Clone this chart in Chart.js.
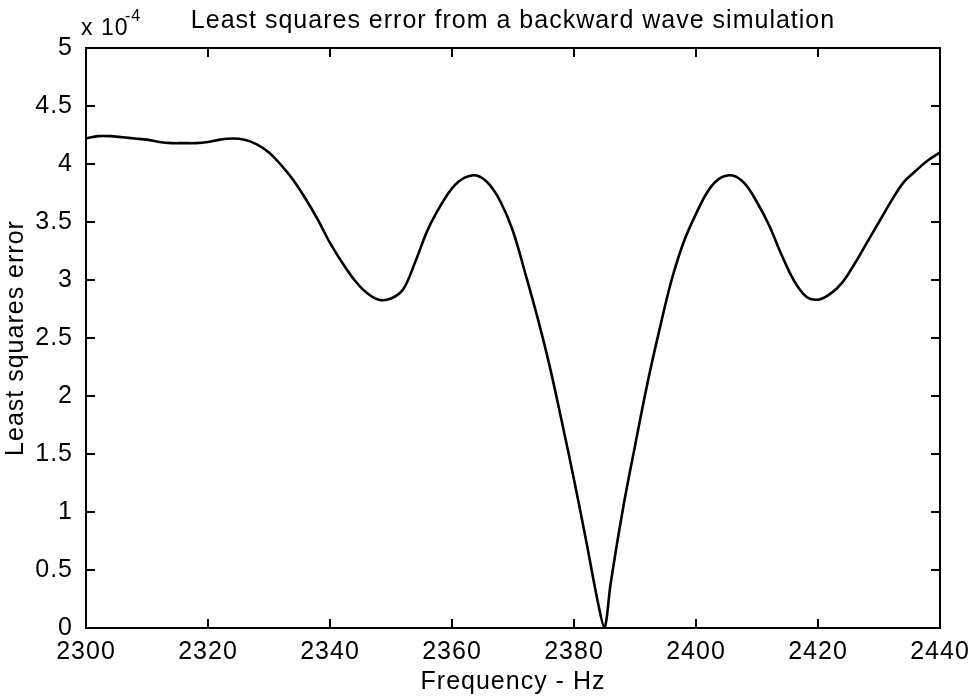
<!DOCTYPE html>
<html>
<head>
<meta charset="utf-8">
<script src="https://cdn.jsdelivr.net/npm/chart.js@4.4.1/dist/chart.umd.min.js"></script>
<style>
  html, body { margin: 0; padding: 0; background: #fff; }
</style>
</head>
<body>
<canvas id="errChart" width="973" height="700"></canvas>
<script>
// frequency in Hz, error in units of 1e-4
const frequency = [
  2300, 2302, 2304, 2306, 2308, 2310, 2312, 2314, 2316, 2318,
  2320, 2322, 2324, 2326, 2328, 2330, 2332, 2334, 2336, 2338,
  2340, 2342, 2344, 2346, 2348, 2350, 2352, 2354, 2356, 2358,
  2360, 2362, 2364, 2366, 2368, 2370, 2372, 2374, 2376, 2378,
  2380, 2382, 2384, 2385, 2386, 2388, 2390, 2392, 2394, 2396,
  2398, 2400, 2402, 2404, 2406, 2408, 2410, 2412, 2414, 2416,
  2418, 2420, 2422, 2424, 2426, 2428, 2430, 2432, 2434, 2436,
  2438, 2440
];
const lsError = [
  4.22, 4.24, 4.24, 4.23, 4.22, 4.21, 4.19, 4.18, 4.18, 4.18,
  4.19, 4.21, 4.22, 4.21, 4.17, 4.10, 3.99, 3.86, 3.70, 3.52,
  3.32, 3.15, 3.00, 2.89, 2.83, 2.84, 2.92, 3.16, 3.43, 3.63,
  3.79, 3.88, 3.90, 3.83, 3.67, 3.42, 3.06, 2.68, 2.26, 1.78,
  1.28, 0.75, 0.20, 0.00, 0.38, 1.02, 1.57, 2.10, 2.57, 3.00,
  3.33, 3.57, 3.77, 3.88, 3.90, 3.83, 3.67, 3.47, 3.22, 3.00,
  2.86, 2.83, 2.88, 2.98, 3.14, 3.32, 3.50, 3.68, 3.84, 3.94,
  4.03, 4.10
];
const freqTicks = [2300, 2320, 2340, 2360, 2380, 2400, 2420, 2440];
const errTicks = [0, 0.5, 1, 1.5, 2, 2.5, 3, 3.5, 4, 4.5, 5];

const FONT = '"Liberation Sans", Arial, Helvetica, sans-serif';

// box round the plot, inward ticks on all four sides, exponent label
const frameAndTicks = {
  id: 'frameAndTicks',
  beforeDraw(chart) {
    const ctx = chart.ctx;
    ctx.save();
    ctx.fillStyle = '#fff';
    ctx.fillRect(0, 0, chart.width, chart.height);
    ctx.restore();
    ctx.letterSpacing = '1px';
  },
  afterDraw(chart) {
    const { ctx, chartArea: a, scales: { x, y } } = chart;
    const len = 9;
    ctx.save();
    ctx.strokeStyle = '#000';
    ctx.lineWidth = 2;
    ctx.strokeRect(a.left, a.top, a.right - a.left, a.bottom - a.top);
    ctx.beginPath();
    x.ticks.forEach(t => {
      const px = x.getPixelForValue(t.value);
      ctx.moveTo(px, a.bottom); ctx.lineTo(px, a.bottom - len);
      ctx.moveTo(px, a.top); ctx.lineTo(px, a.top + len);
    });
    y.ticks.forEach(t => {
      const py = y.getPixelForValue(t.value);
      ctx.moveTo(a.left, py); ctx.lineTo(a.left + len, py);
      ctx.moveTo(a.right, py); ctx.lineTo(a.right - len, py);
    });
    ctx.stroke();

    ctx.fillStyle = '#000';
    ctx.textAlign = 'left';
    ctx.textBaseline = 'alphabetic';
    ctx.font = '23px ' + FONT;
    ctx.fillText('x 10', 81, 35);
    ctx.font = '16px ' + FONT;
    ctx.fillText('-4', 125, 21);
    ctx.restore();
  }
};

const ctx = document.getElementById('errChart').getContext('2d');
new Chart(ctx, {
  type: 'line',
  data: {
    datasets: [{
      data: frequency.map((f, i) => ({ x: f, y: lsError[i] })),
      borderColor: '#000',
      borderWidth: 2.6,
      pointRadius: 0,
      fill: false,
      tension: 0.35
    }]
  },
  options: {
    responsive: false,
    animation: false,
    layout: { padding: { left: 0, right: 33, top: 0, bottom: 0 } },
    plugins: {
      legend: { display: false },
      tooltip: { enabled: false },
      title: {
        display: true,
        fullSize: false,
        text: 'Least squares error from a backward wave simulation',
        color: '#000',
        font: { family: FONT, size: 25, weight: 'normal', lineHeight: 1.2 },
        padding: { top: 6, bottom: 12 }
      }
    },
    scales: {
      x: {
        type: 'linear',
        min: 2300,
        max: 2440,
        afterBuildTicks: s => { s.ticks = freqTicks.map(v => ({ value: v })); },
        afterFit: s => { s.height = 72; s.paddingLeft = 0; s.paddingRight = 0; },
        grid: { display: true, drawOnChartArea: false, drawTicks: false },
        border: { display: false },
        ticks: {
          color: '#000',
          autoSkip: false,
          maxRotation: 0,
          padding: 9,
          font: { family: FONT, size: 25 },
          callback: v => String(v)
        },
        title: {
          display: true,
          text: 'Frequency - Hz',
          color: '#000',
          font: { family: FONT, size: 25, lineHeight: 1.2 },
          padding: { top: 0, bottom: 3 }
        }
      },
      y: {
        min: 0,
        max: 5,
        afterBuildTicks: s => { s.ticks = errTicks.map(v => ({ value: v })); },
        afterFit: s => { s.width = 86; },
        grid: { display: true, drawOnChartArea: false, drawTicks: false },
        border: { display: false },
        ticks: {
          color: '#000',
          autoSkip: false,
          padding: 13,
          font: { family: FONT, size: 25 },
          callback: v => String(v)
        },
        title: {
          display: true,
          text: 'Least squares error',
          color: '#000',
          font: { family: FONT, size: 25, lineHeight: 1.2 },
          padding: { top: 1, bottom: 0 }
        }
      }
    }
  },
  plugins: [frameAndTicks]
});
</script>
</body>
</html>
